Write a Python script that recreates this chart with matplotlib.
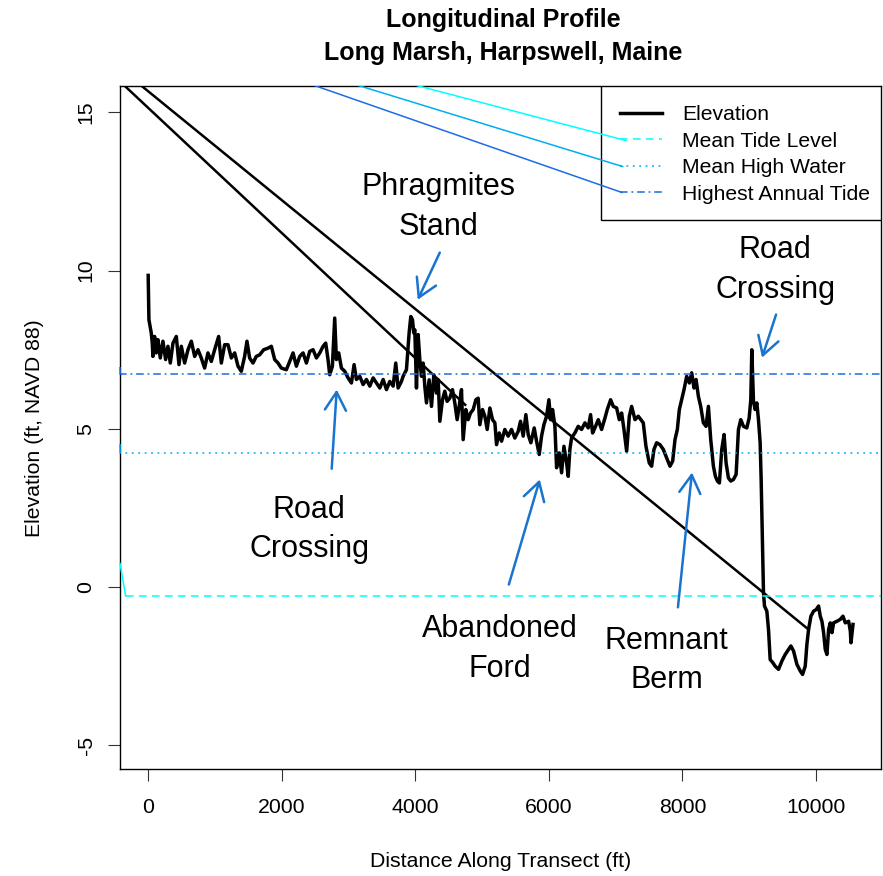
import matplotlib
matplotlib.use("Agg")
import matplotlib.pyplot as plt
from matplotlib.patches import Rectangle

plt.rcParams['font.family'] = ['Liberation Sans', 'DejaVu Sans']
plt.rcParams['axes.unicode_minus'] = False

# elevation profile (ft along transect, ft NAVD 88)
distance = [0, 11, 46, 61, 71, 96, 121, 146, 181, 221, 261, 296, 331, 371, 421,
            461, 496, 546, 596, 646, 696, 746, 795, 845, 895, 945, 995, 1055,
            1095, 1145, 1195, 1245, 1295, 1345, 1394, 1444, 1479, 1519, 1569,
            1619, 1669, 1729, 1794, 1844, 1894, 1944, 1994, 2069, 2119, 2169,
            2219, 2269, 2319, 2369, 2419, 2469, 2519, 2569, 2619, 2658, 2693,
            2718, 2758, 2793, 2818, 2853, 2893, 2943, 2993, 3043, 3083, 3118,
            3168, 3218, 3268, 3318, 3368, 3418, 3468, 3518, 3568, 3618, 3668,
            3707, 3742, 3792,
            3817, 3867, 3907, 3932, 3957, 3977, 3992, 4017, 4042, 4067, 4092,
            4117, 4142, 4167, 4207, 4242, 4277, 4317, 4342, 4367, 4407, 4441,
            4476, 4516, 4556, 4591, 4626, 4656, 4691, 4716, 4756, 4791, 4826,
            4866, 4906, 4941, 4966, 5006, 5041, 5076, 5116, 5156, 5191, 5216,
            5256, 5291, 5340, 5390, 5440, 5490, 5540, 5575, 5615, 5655, 5690,
            5730, 5780, 5815, 5855, 5890, 5925, 5965, 6000, 6025, 6055, 6090,
            6115, 6155, 6190, 6225, 6265, 6289, 6314, 6339, 6389, 6439, 6489,
            6539, 6589, 6624, 6654, 6689, 6739, 6789, 6839, 6874, 6924, 6964,
            7014, 7054, 7089, 7124, 7164, 7204, 7239, 7289, 7338,
            7413, 7453, 7503, 7538, 7573, 7613, 7663, 7713, 7763, 7813, 7853,
            7888, 7923, 7953, 7988, 8023, 8063, 8103, 8138, 8173, 8203, 8238,
            8273, 8313, 8353, 8388, 8423, 8463, 8493, 8523, 8553, 8588, 8623,
            8653, 8688, 8723, 8763, 8803, 8838, 8873, 8913, 8963, 8998, 9023,
            9038, 9063, 9088, 9113, 9138, 9163, 9178, 9198, 9213, 9228, 9263,
            9288, 9313, 9353, 9388, 9438, 9488, 9538, 9588, 9623, 9663, 9713,
            9763, 9798, 9838, 9863, 9888, 9923, 9963, 10003, 10038, 10063,
            10088, 10113, 10138, 10163, 10188, 10213, 10238, 10263, 10313,
            10363, 10403, 10438, 10488, 10513, 10523, 10553]
elevation = [9.85, 8.45, 8.03, 7.71, 7.29, 7.92, 7.40, 7.82, 7.24, 7.77, 7.19,
             7.61, 7.08, 7.71, 7.92, 7.03, 7.61, 7.08, 7.50, 7.77, 7.29, 7.50,
             7.24, 6.92, 7.40, 7.13, 7.50, 7.92, 7.08, 7.66, 7.66, 7.24, 7.40,
             6.98, 6.82, 7.29, 7.77, 7.24, 7.08, 7.29, 7.34, 7.50, 7.55, 7.61,
             7.19, 7.08, 6.92, 6.87, 7.13, 7.40, 6.98, 7.29, 7.40, 7.08, 7.45,
             7.50, 7.24, 7.40, 7.61, 7.71, 7.19, 6.71, 6.98, 8.50, 7.19, 7.40,
             6.92, 6.82, 6.61, 6.45, 7.03, 6.56, 6.66, 6.40, 6.56, 6.35, 6.61,
             6.45, 6.29, 6.56, 6.24, 6.50, 6.35, 7.08, 6.29, 6.50,
             6.66, 6.87, 8.03, 8.55, 8.45, 8.03, 8.13, 6.29, 7.98, 7.19, 6.66,
             7.08, 6.34, 5.82, 6.55, 5.71, 6.71, 6.13, 6.55, 5.24, 5.92, 6.19,
             5.87, 5.97, 6.24, 5.82, 5.29, 5.71, 6.24, 4.66, 5.61, 5.29, 5.50,
             5.61, 5.92, 5.97, 5.13, 5.61, 5.40, 4.98, 5.66, 5.29, 5.19, 4.50,
             4.87, 4.61, 4.98, 4.77, 4.98, 4.71, 4.92, 5.24, 4.77, 5.45, 4.82,
             4.56, 5.03, 4.61, 4.19, 4.77, 5.13, 5.40, 5.92, 5.29, 5.61, 5.08,
             3.77, 4.24, 3.61, 4.45, 3.92, 3.50, 4.35, 4.71, 4.87, 5.08, 4.98,
             5.19, 5.03, 5.45, 4.87, 5.03, 5.29, 4.98, 5.34, 5.61, 5.92, 5.71,
             5.66, 5.29, 5.50, 4.98, 4.29, 5.40, 5.71, 5.29, 5.40,
             5.19, 4.45, 3.92, 3.82, 4.35, 4.56, 4.50, 4.35, 4.08, 3.82, 3.98,
             4.66, 4.98, 5.61, 5.92, 6.24, 6.66, 6.45, 6.77, 6.29, 6.56, 6.03,
             5.71, 5.19, 5.08, 5.71, 4.66, 3.82, 3.50, 3.35, 3.29, 4.35, 4.82,
             3.92, 3.45, 3.35, 3.40, 3.56, 4.98, 5.29, 5.08, 5.03, 5.34, 5.92,
             7.50, 5.87, 5.61, 5.82, 5.29, 4.56, 3.40, 1.29, -0.18, -0.60, -0.76,
             -1.34, -2.29, -2.39, -2.50, -2.60, -2.34, -2.13, -1.97, -1.86, -2.02,
             -2.44, -2.65, -2.76, -2.50, -1.81, -1.34, -0.92, -0.76, -0.71, -0.60,
             -0.92, -1.08, -1.44, -1.97, -2.13, -1.34, -1.13, -1.44, -1.13, -1.08,
             -1.02, -0.92, -1.13, -1.08, -1.39, -1.76, -1.18]

tide_labels = ["Mean Tide Level", "Mean High Water", "Highest Annual Tide"]
tide_levels = [-0.28, 4.24, 6.73]
tide_colors = ["#00FFFF", "#00AEEF", "#1C6CE6"]
tide_dashes = [(0, (5, 3.5)), (0, (1.2, 3)), (0, (5, 2.5, 1.2, 2.5))]
tide_start = [-338, -430, -430]

# stray segments the original drawing has
stub_x = [[-422, -338], [-422, -420], [-422, -420]]
stub_y = [[0.75, -0.28], [4.50, 4.24], [6.93, 6.73]]
black_x = [[-600, 4747], [-600, 9888]]
black_y = [[16.33, 5.76], [16.70, -1.34]]
color_x = [[3500, 7153], [2500, 7104], [2000, 7093]]
color_y = [[16.14, 14.11], [16.27, 13.29], [16.21, 12.47]]

notes = ["Phragmites\nStand", "Road\nCrossing", "Road\nCrossing",
         "Abandoned\nFord", "Remnant\nBerm"]
note_xy = [(4351, 12.0), (9386, 10.03), (2411, 1.82), (5265, -1.96), (7760, -2.32)]
arrow_tail = [(4366, 10.57), (9401, 8.61), (2748, 3.74), (5400, 0.08), (7932, -0.64)]
arrow_head = [(4036, 9.08), (9191, 7.25), (2823, 6.24), (5864, 3.40), (8142, 3.62)]
arrow_color = "#1874CD"

fig = plt.figure(figsize=(8.83, 8.76), dpi=100)
ax = fig.add_axes([0.1359, 0.1221, 0.8618, 0.7792])

for xs, ys in zip(black_x, black_y):
    ax.plot(xs, ys, color="black", lw=1.8)
for xs, ys, c in zip(color_x, color_y, tide_colors):
    ax.plot(xs, ys, color=c, lw=1.1, zorder=6)
for xs, ys, c in zip(stub_x, stub_y, tide_colors):
    ax.plot(xs, ys, color=c, lw=1.1, clip_on=False, zorder=5)

ax.plot(distance, elevation, color="black", lw=2.5, label="Elevation",
        solid_joinstyle="round")
for lvl, c, ls, x0, lab in zip(tide_levels, tide_colors, tide_dashes, tide_start, tide_labels):
    ax.plot([x0, 11200], [lvl, lvl], color=c, lw=1.1, linestyle=ls, label=lab)

for txt, pos, tail, head in zip(notes, note_xy, arrow_tail, arrow_head):
    ax.text(pos[0], pos[1], txt, fontsize=22, ha="center", va="center",
            linespacing=1.43)
    ax.annotate("", xy=head, xytext=tail,
                arrowprops=dict(arrowstyle="->,head_length=0.65,head_width=0.38",
                                color=arrow_color, lw=1.8, mutation_scale=20,
                                shrinkA=0, shrinkB=0))

ax.set_xlim(-422, 10972)
ax.set_ylim(-5.75, 15.82)
ax.set_xticks([0, 2000, 4000, 6000, 8000, 10000])
ax.set_yticks([-5, 0, 5, 10, 15])
ax.tick_params(direction="out", length=8.6, width=0.8, labelsize=15.3,
               color="#333333")
ax.tick_params(axis="x", pad=12.5)
ax.tick_params(axis="y", pad=9)
plt.setp(ax.get_yticklabels(), rotation=90, va="center")
for s in ax.spines.values():
    s.set_linewidth(1.0)

ax.set_xlabel("Distance Along Transect (ft)", fontsize=15.3)
ax.set_ylabel("Elevation (ft, NAVD 88)", fontsize=15.3)
ax.xaxis.set_label_coords(0.5, -0.1215)
ax.yaxis.set_label_coords(-0.10, 0.5)

# legend box drawn separately, R style (wider padding on the left)
ax.add_patch(Rectangle((0.632, 0.8038), 0.368, 0.1962, transform=ax.transAxes,
                       facecolor="white", edgecolor="black", lw=1.0, zorder=4.9))
leg = ax.legend(loc="upper right", bbox_to_anchor=(1, 0.9883), borderaxespad=0,
                fontsize=15.2, handlelength=2.0, handletextpad=0.96,
                borderpad=0.5, labelspacing=0.36, frameon=False)

fig.text(0.5697, 1 - 27 / 876, "Longitudinal Profile", fontsize=18,
         fontweight="bold", ha="center", va="baseline")
fig.text(0.5697, 1 - 60 / 876, "Long Marsh, Harpswell, Maine", fontsize=18,
         fontweight="bold", ha="center", va="baseline")

fig.savefig("out.png", dpi=100)
